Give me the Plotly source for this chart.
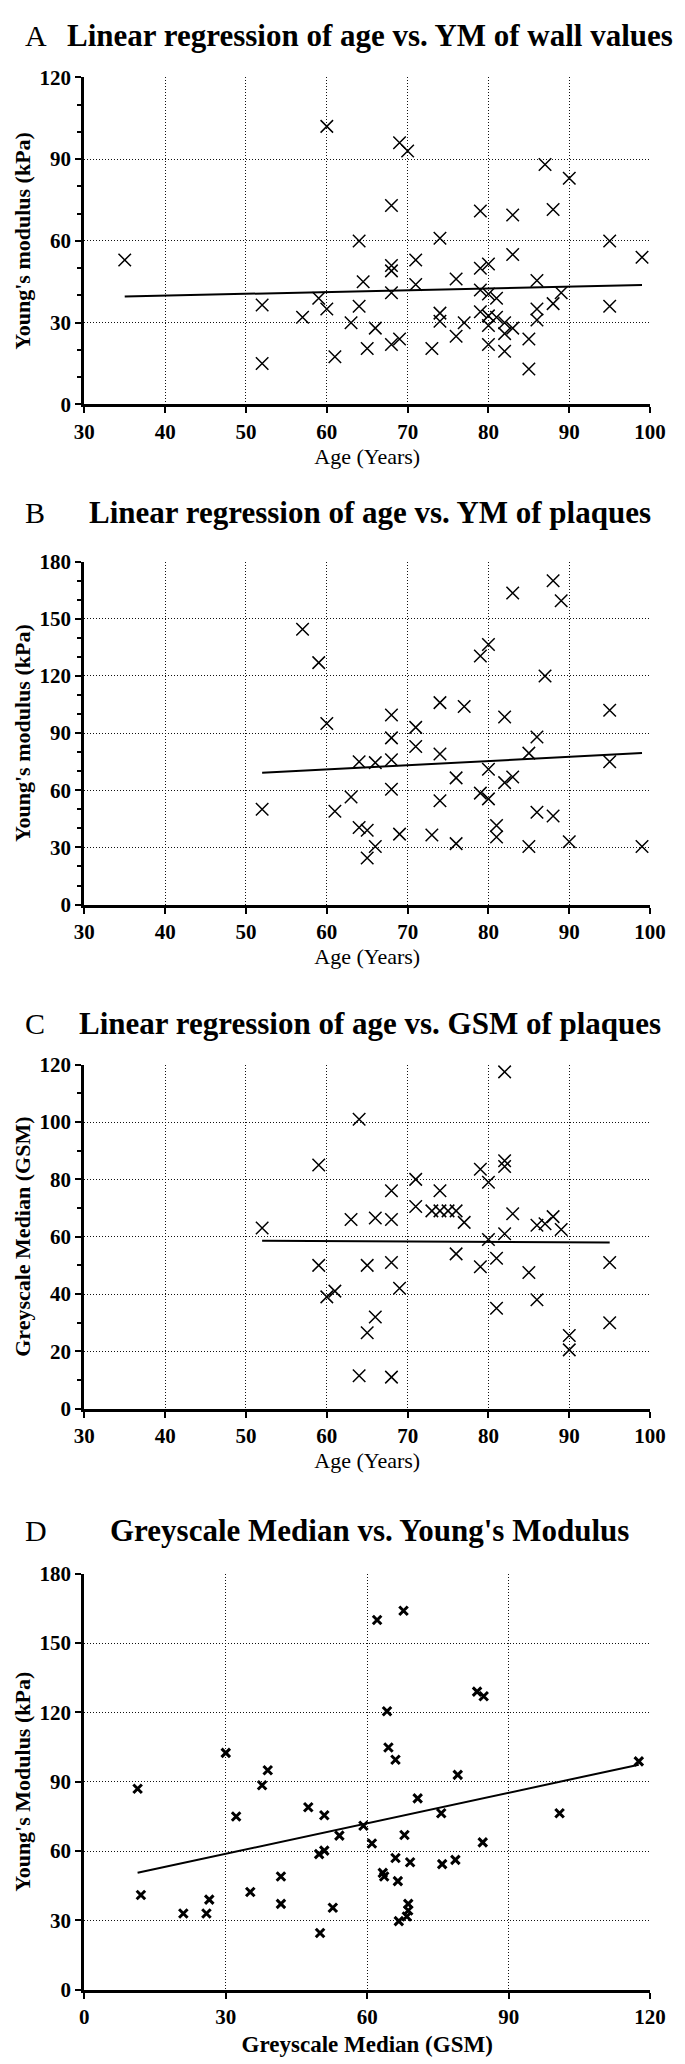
import plotly.graph_objects as go

# ---------------- Data ----------------
# Panel A: age vs Young's modulus of wall values
A_age = [35, 52, 52, 57, 59, 60, 60, 61, 63, 64, 64, 64.5, 65, 66, 68, 68, 68, 68, 68,
         69, 69, 70, 71, 71, 73, 74, 74, 74, 76, 76, 77, 79, 79, 79, 79, 80, 80, 80, 80,
         80, 81, 81, 82, 82, 82, 83, 83, 83, 85, 85, 86, 86, 86, 87, 88, 88, 89, 90, 95,
         95, 99]
A_ym = [53, 36.5, 15, 32, 39, 102, 35, 17.5, 30, 60, 36, 45, 20.5, 28, 73, 51, 49, 41, 22,
        96, 24, 93, 53, 44, 20.5, 61, 33.5, 30.5, 46, 25, 30, 71, 50, 42, 34, 51.5, 40.5,
        32.5, 29, 22, 39, 32, 30, 26, 19.5, 69.5, 55, 28, 24, 13, 45.5, 35, 31, 88, 71.5,
        37, 41, 83, 60, 36, 54]
A_fit_age = [35, 99]
A_fit_ym = [39.6, 43.8]

# Panel B: age vs Young's modulus of plaques
B_age = [52, 57, 59, 60, 61, 63, 64, 64, 65, 65, 66, 66, 68, 68, 68, 68, 69, 71, 71, 73,
         74, 74, 74, 76, 76, 77, 79, 79, 80, 80, 80, 81, 81, 82, 82, 83, 83, 85, 85, 86,
         86, 87, 88, 88, 89, 90, 95, 95, 99]
B_ym = [50, 144.5, 127, 95, 49, 56.5, 75, 40.5, 39, 24.5, 74.5, 30.5, 99.5, 87.5, 76, 60.5,
        37, 93, 83, 36.5, 106, 79, 54.5, 66.5, 32, 104, 130.5, 58.5, 136.5, 71, 55.5, 41.5,
        35.5, 98.5, 64, 163.5, 67, 79.5, 30.5, 88, 48.5, 120, 170, 46.5, 159.5, 33, 102,
        75, 30.5]
B_fit_age = [52, 99]
B_fit_ym = [69.2, 79.5]

# Panel C: age vs GSM of plaques
C_age = [52, 59, 59, 60, 61, 63, 64, 64, 65, 65, 66, 66, 68, 68, 68, 68, 69, 71, 71, 73,
         74, 74, 75, 76, 76, 77, 79, 79, 80, 80, 81, 81, 82, 82, 82, 82, 83, 85, 86, 86,
         87, 88, 89, 90, 90, 95, 95]
C_gsm = [63, 85, 50, 39, 41, 66, 101, 11.5, 50, 26.5, 66.5, 32, 76, 66, 51, 11, 42, 80,
         70.5, 69, 76, 69, 69, 69, 54, 65, 83.5, 49.5, 79, 59, 52.5, 35, 117.5, 86.5, 84.5,
         61, 68, 47.5, 64, 38, 64.5, 67, 62.5, 25.5, 20.5, 51, 30]
C_fit_age = [52, 95]
C_fit_gsm = [58.6, 58.0]

# Panel D: GSM vs Young's modulus
D_gsm = [11.3, 12, 21, 25.9, 26.5, 30, 32.2, 35.2, 37.7, 38.9, 41.7, 41.7, 47.5, 49.8, 50,
         50.9, 50.9, 52.7, 54.1, 59.2, 61, 62.1, 63.3, 63.6, 64.2, 64.5, 66, 66, 66.5, 66.7,
         67.7, 67.9, 68.4, 68.7, 68.7, 69.1, 70.7, 75.7, 75.9, 78.7, 79.2, 83.3, 84.5, 84.7,
         100.8, 117.6]
D_ym = [87, 41, 33, 33, 39, 102.5, 75, 42.3, 88.5, 95, 49, 37.2, 79, 58.7, 24.6, 60.2, 75.5,
        35.5, 66.7, 71, 63.3, 160, 50.6, 49, 120.5, 104.8, 99.5, 57, 47, 29.7, 164, 67, 31.7,
        37.2, 34.3, 55.2, 82.8, 76.4, 54.4, 56.2, 93, 129, 63.8, 127, 76.4, 98.8]
D_fit_gsm = [11.3, 117.6]
D_fit_ym = [50.6, 97.4]

# ---------------- Layout helpers ----------------
W, H = 685, 2064
FONT = "Liberation Serif"


def fy(px):
    return 1 - px / H


def fx(px):
    return px / W


XDOM = [fx(68), fx(657)]
panels = [
    # top_px, bottom_px
    (58, 389),
    (548, 895),
    (1057, 1405),
    (1572, 1993),
]

tickfont = dict(family=FONT, size=21, color="black", weight="bold")
grid = dict(showgrid=True, griddash="1px,2px", gridcolor="#111", gridwidth=1)
axline = dict(showline=True, linecolor="black", linewidth=3, ticks="outside", ticklen=6,
              tickwidth=2, tickcolor="black", zeroline=False, tickfont=tickfont)

fig = go.Figure()

thin = dict(symbol="x-thin", size=12.5, color="black", line=dict(width=1.5, color="black"))
bold = dict(symbol="x-thin", size=8.5, color="black", line=dict(width=3, color="black"))

data = [
    (A_age, A_ym, A_fit_age, A_fit_ym, thin),
    (B_age, B_ym, B_fit_age, B_fit_ym, thin),
    (C_age, C_gsm, C_fit_age, C_fit_gsm, thin),
    (D_gsm, D_ym, D_fit_gsm, D_fit_ym, bold),
]
for i, (xs, ys, fxs, fys, mk) in enumerate(data):
    s = "" if i == 0 else str(i + 1)
    fig.add_trace(go.Scatter(x=xs, y=ys, mode="markers", marker=mk,
                             xaxis="x" + s, yaxis="y" + s, hoverinfo="skip"))
    fig.add_trace(go.Scatter(x=fxs, y=fys, mode="lines", line=dict(color="black", width=2),
                             xaxis="x" + s, yaxis="y" + s, hoverinfo="skip"))

xtitle_font = dict(family=FONT, size=22, color="black")
ytitle_font = dict(family=FONT, size=22, color="black", weight="bold")

yspecs = [
    dict(range=[0, 120], dtick=30, title="Young's modulus (kPa)", minor=True),
    dict(range=[0, 180], dtick=30, title="Young's modulus (kPa)", minor=True),
    dict(range=[0, 120], dtick=20, title="Greyscale Median (GSM)", minor=True),
    dict(range=[0, 180], dtick=30, title="Young's Modulus (kPa)", minor=False),
]
xspecs = [
    dict(range=[30, 100], dtick=10, title="Age (Years)", font=xtitle_font, standoff=4),
    dict(range=[30, 100], dtick=10, title="Age (Years)", font=xtitle_font, standoff=4),
    dict(range=[30, 100], dtick=10, title="Age (Years)", font=xtitle_font, standoff=4),
    dict(range=[0, 120], dtick=30, title="Greyscale Median (GSM)",
         font=dict(family=FONT, size=23, color="black", weight="bold"), standoff=8),
]

layout = dict(width=W, height=H, margin=dict(l=0, r=0, t=0, b=0),
              paper_bgcolor="white", plot_bgcolor="white", showlegend=False)

for i in range(4):
    s = "" if i == 0 else str(i + 1)
    top, bot = panels[i]
    xs_, ys_ = xspecs[i], yspecs[i]
    layout["xaxis" + s] = dict(domain=XDOM, anchor="y" + s, range=xs_["range"],
                               tick0=xs_["range"][0], dtick=xs_["dtick"],
                               title=dict(text=xs_["title"], font=xs_["font"],
                                          standoff=xs_["standoff"]),
                               **grid, **axline)
    ydict = dict(domain=[fy(bot), fy(top)], anchor="x" + s, range=ys_["range"],
                 tick0=0, dtick=ys_["dtick"],
                 title=dict(text=ys_["title"], font=ytitle_font, standoff=3),
                 **grid, **axline)
    if ys_["minor"]:
        ydict["minor"] = dict(dtick=10, ticks="outside", ticklen=4, tickwidth=2,
                              tickcolor="black", showgrid=False)
    layout["yaxis" + s] = ydict

titles = [
    ("A", "Linear regression of age vs. YM of wall values", 16),
    ("B", "Linear regression of age vs. YM of plaques", 498),
    ("C", "Linear regression of age vs. GSM of plaques", 1015),
    ("D", "Greyscale Median vs. Young's Modulus", 1528),
]
ann = []
for letter, text, ypx in titles:
    ann.append(dict(text=letter, x=fx(4), y=fy(ypx), xref="paper", yref="paper",
                    xanchor="left", yanchor="middle", showarrow=False,
                    font=dict(family=FONT, size=30, color="black")))
    ann.append(dict(text=text, x=fx(365), y=fy(ypx), xref="paper", yref="paper",
                    xanchor="center", yanchor="middle", showarrow=False,
                    font=dict(family=FONT, size=31, color="black", weight="bold")))
layout["annotations"] = ann

fig.update_layout(**layout)
fig.write_html("out.html")
